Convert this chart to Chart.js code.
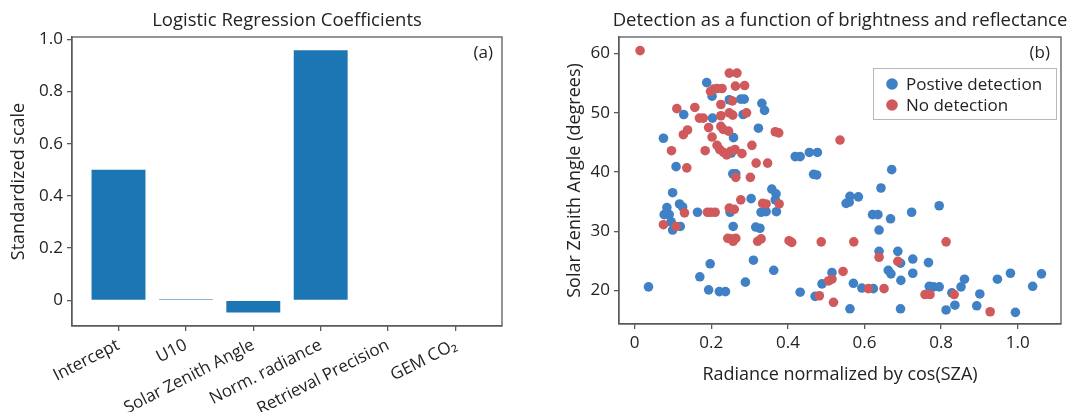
<!DOCTYPE html>
<html>
<head>
<meta charset="utf-8">
<script src="https://cdn.jsdelivr.net/npm/chart.js@4.4.0/dist/chart.umd.min.js"></script>
<style>
    html, body { margin: 0; padding: 0; background: #fff; }
    #wrap { position: relative; width: 1074px; height: 412px; }
    canvas { position: absolute; top: 0; }
    #coefChart { left: 0; }
    #scatterChart { left: 540px; }
</style>
</head>
<body>
<div id="wrap">
    <canvas id="coefChart" width="540" height="412"></canvas>
    <canvas id="scatterChart" width="534" height="412"></canvas>
</div>
<script>
// Panel (a): regression coefficients
const coefLabels = ['Intercept', 'U10', 'Solar Zenith Angle', 'Norm. radiance', 'Retrieval Precision', 'GEM CO\u2082'];
const coefValues = [0.5, 0.004, -0.047, 0.958, 0, 0];
const coefTicks = [0, 0.2, 0.4, 0.6, 0.8, 1.0];

// Panel (b): detection scatter
const posX = [0.036, 0.075, 0.108, 0.099, 0.084, 0.117, 0.125, 0.077, 0.090, 0.095, 0.119, 0.099, 0.164, 0.249, 0.304, 0.330,
    0.343, 0.257, 0.316, 0.327, 0.197, 0.310, 0.170, 0.289, 0.193, 0.221, 0.237, 0.358, 0.369, 0.367, 0.370, 0.188,
    0.202, 0.247, 0.277, 0.286, 0.332, 0.339, 0.128, 0.203, 0.283, 0.323, 0.258, 0.252, 0.256, 0.264, 0.419, 0.432,
    0.456, 0.477, 0.467, 0.475, 0.671, 0.643, 0.562, 0.584, 0.552, 0.560, 0.621, 0.635, 0.668, 0.723, 0.638, 0.638,
    0.687, 0.694, 0.726, 0.363, 0.515, 0.489, 0.571, 0.593, 0.623, 0.662, 0.669, 0.695, 0.726, 0.432, 0.471, 0.562,
    0.694, 0.795, 0.767, 0.769, 0.780, 0.795, 0.828, 0.861, 0.852, 0.901, 0.947, 0.981, 1.062, 1.039, 0.813, 0.836,
    0.893, 0.994];
const posY = [20.6, 45.7, 40.9, 36.5, 34.0, 34.6, 34.1, 32.8, 32.8, 31.6, 30.8, 30.2, 33.2, 33.2, 35.5, 33.2,
    33.3, 30.8, 30.7, 30.5, 24.5, 25.1, 22.3, 21.4, 20.1, 19.8, 19.8, 37.1, 36.3, 35.3, 33.3, 55.1,
    52.8, 52.2, 52.3, 52.3, 51.6, 50.4, 49.7, 49.1, 49.7, 47.4, 45.8, 43.2, 39.7, 39.7, 42.6, 42.6,
    43.3, 43.3, 39.6, 39.5, 40.4, 37.3, 35.9, 35.8, 34.7, 34.9, 32.8, 32.8, 32.1, 33.2, 30.2, 26.6,
    26.6, 24.6, 25.3, 23.4, 23.0, 21.1, 21.2, 20.4, 20.3, 23.4, 22.8, 21.7, 22.9, 19.7, 19.0, 16.9,
    16.9, 34.3, 24.7, 20.7, 20.6, 20.6, 19.6, 21.9, 20.6, 19.4, 21.9, 22.9, 22.8, 20.7, 16.7, 17.5,
    17.4, 16.3];
const negX = [0.014, 0.247, 0.267, 0.263, 0.287, 0.198, 0.206, 0.215, 0.228, 0.255, 0.225, 0.110, 0.157, 0.169, 0.179, 0.225,
    0.247, 0.256, 0.292, 0.193, 0.225, 0.231, 0.245, 0.138, 0.127, 0.202, 0.306, 0.096, 0.184, 0.215, 0.222, 0.232,
    0.240, 0.250, 0.262, 0.280, 0.317, 0.347, 0.136, 0.264, 0.302, 0.130, 0.075, 0.108, 0.190, 0.199, 0.210, 0.247,
    0.260, 0.277, 0.334, 0.343, 0.377, 0.243, 0.251, 0.264, 0.257, 0.321, 0.330, 0.367, 0.376, 0.536, 0.403, 0.410,
    0.487, 0.572, 0.638, 0.687, 0.544, 0.506, 0.515, 0.482, 0.519, 0.610, 0.651, 0.813, 0.758, 0.771, 0.834, 0.928];
const negY = [60.5, 56.7, 56.7, 54.5, 54.6, 53.6, 54.0, 54.1, 54.1, 52.0, 51.4, 50.7, 50.9, 49.1, 49.1, 49.5,
    50.0, 49.6, 50.0, 47.5, 47.7, 47.2, 46.9, 47.1, 46.3, 45.9, 44.5, 43.6, 43.6, 44.5, 43.8, 43.3,
    42.9, 43.5, 43.8, 43.1, 41.5, 41.5, 40.7, 39.1, 39.1, 33.1, 31.1, 30.8, 33.2, 33.2, 33.2, 33.9,
    33.7, 35.3, 34.7, 34.6, 34.6, 28.8, 28.7, 28.8, 28.3, 28.3, 28.7, 46.8, 46.6, 45.4, 28.4, 28.1,
    28.2, 28.2, 25.6, 24.9, 23.2, 21.6, 21.9, 19.1, 18.0, 20.3, 20.3, 28.2, 19.3, 19.3, 19.3, 16.4];
const scatterXTicks = [0, 0.2, 0.4, 0.6, 0.8, 1.0];
const scatterYTicks = [20, 30, 40, 50, 60];

const FONT = '"Open Sans", "DejaVu Sans", sans-serif';
const TEXT = '#232323';
const AXIS = '#5a5a5a';
const BLUE = '#4081c6';
const RED = '#d05a5b';
const TICK_SIZE = 17;
const LABEL_SIZE = 18;
const TITLE_SIZE = 18.5;

Chart.defaults.font.family = FONT;
Chart.defaults.font.size = TICK_SIZE;
Chart.defaults.color = TEXT;

function fmt(v) {
    return v === 0 ? '0' : v.toFixed(1);
}

// box round the plot area, chart title, panel letter and legend
const framePlugin = {
    id: 'frame',
    afterDraw(chart, args, opts) {
        const { ctx, chartArea: a } = chart;
        ctx.save();
        ctx.strokeStyle = AXIS;
        ctx.lineWidth = 1.3;
        ctx.strokeRect(a.left, a.top, a.right - a.left, a.bottom - a.top);
        ctx.fillStyle = TEXT;
        ctx.font = TITLE_SIZE + 'px ' + FONT;
        ctx.textBaseline = 'middle';
        ctx.textAlign = 'center';
        ctx.fillText(opts.title, (a.left + a.right) / 2, 21);
        ctx.font = '17px ' + FONT;
        ctx.textAlign = 'right';
        ctx.fillText(opts.letter, a.right - opts.letterDx, a.top + 16);
        if (opts.legend) {
            const bx = a.right - 188, by = a.top + 31, bw = 183, bh = 51;
            ctx.fillStyle = 'rgba(255,255,255,0.8)';
            ctx.fillRect(bx, by, bw, bh);
            ctx.strokeStyle = '#b8b8b8';
            ctx.lineWidth = 1;
            ctx.strokeRect(bx + 0.5, by + 0.5, bw, bh);
            ctx.textAlign = 'left';
            opts.legend.forEach((item, i) => {
                const cy = by + 16 + i * 21;
                ctx.fillStyle = item.color;
                ctx.beginPath();
                ctx.arc(bx + 19, cy, 5.8, 0, Math.PI * 2);
                ctx.fill();
                ctx.fillStyle = TEXT;
                ctx.fillText(item.label, bx + 33, cy + 1);
            });
        }
        ctx.restore();
    }
};

function axisCommon() {
    return {
        grid: { display: true, offset: false, drawOnChartArea: false, drawTicks: true, tickLength: 5, color: AXIS, lineWidth: 1.3 },
        border: { display: true, color: AXIS, width: 1.3 },
        ticks: { padding: 4, color: TEXT, font: { size: TICK_SIZE } }
    };
}

// Panel (a)
const coefX = axisCommon();
const coefY = axisCommon();
new Chart(document.getElementById('coefChart'), {
    type: 'bar',
    data: {
        datasets: [{
            data: coefValues.map((v, i) => ({ x: i, y: v })),
            backgroundColor: '#1c76b4',
            borderWidth: 0,
            barPercentage: 0.8,
            categoryPercentage: 1.0
        }]
    },
    options: {
        responsive: false,
        animation: false,
        events: [],
        layout: { padding: { left: 0, right: 38, top: 37, bottom: 0 } },
        plugins: {
            legend: { display: false },
            tooltip: { enabled: false },
            frame: { title: 'Logistic Regression Coefficients', letter: '(a)', letterDx: 9 }
        },
        scales: {
            x: {
                ...coefX,
                type: 'linear',
                offset: false,
                min: -0.69,
                max: 5.69,
                afterBuildTicks: s => { s.ticks = coefLabels.map((_, i) => ({ value: i })); },
                afterFit: s => { s.height = 86; },
                ticks: {
                    ...coefX.ticks,
                    autoSkip: false,
                    minRotation: 27,
                    maxRotation: 27,
                    callback: v => coefLabels[v]
                }
            },
            y: {
                ...coefY,
                min: -0.0985,
                max: 1.009,
                afterBuildTicks: s => { s.ticks = coefTicks.map(v => ({ value: v })); },
                afterFit: s => { s.width = 72; },
                ticks: { ...coefY.ticks, callback: v => fmt(v) },
                title: { display: true, text: 'Standardized scale', color: TEXT, font: { size: LABEL_SIZE }, padding: { top: 8, bottom: 0 } }
            }
        }
    },
    plugins: [framePlugin]
});

// Panel (b)
const scX = axisCommon();
const scY = axisCommon();
new Chart(document.getElementById('scatterChart'), {
    type: 'scatter',
    data: {
        datasets: [
            {
                label: 'Postive detection',
                data: posX.map((x, i) => ({ x: x, y: posY[i] })),
                backgroundColor: BLUE,
                borderWidth: 0,
                pointRadius: 4.8,
                order: 1
            },
            {
                label: 'No detection',
                data: negX.map((x, i) => ({ x: x, y: negY[i] })),
                backgroundColor: RED,
                borderWidth: 0,
                pointRadius: 4.8,
                order: 0
            }
        ]
    },
    options: {
        responsive: false,
        animation: false,
        events: [],
        layout: { padding: { left: 0, right: 13, top: 37, bottom: 0 } },
        plugins: {
            legend: { display: false },
            tooltip: { enabled: false },
            frame: {
                title: 'Detection as a function of brightness and reflectance',
                letter: '(b)',
                letterDx: 11,
                legend: [{ label: 'Postive detection', color: BLUE }, { label: 'No detection', color: RED }]
            }
        },
        scales: {
            x: {
                ...scX,
                type: 'linear',
                min: -0.041,
                max: 1.113,
                afterBuildTicks: s => { s.ticks = scatterXTicks.map(v => ({ value: v })); },
                afterFit: s => { s.height = 88; },
                ticks: { ...scX.ticks, callback: v => fmt(v) },
                title: { display: true, text: 'Radiance normalized by cos(SZA)', color: TEXT, font: { size: LABEL_SIZE }, padding: { top: 0, bottom: 26 } }
            },
            y: {
                ...scY,
                min: 14.33,
                max: 62.8,
                afterBuildTicks: s => { s.ticks = scatterYTicks.map(v => ({ value: v })); },
                afterFit: s => { s.width = 79; },
                ticks: { ...scY.ticks, callback: v => String(v) },
                title: { display: true, text: 'Solar Zenith Angle (degrees)', color: TEXT, font: { size: LABEL_SIZE }, padding: { top: 24, bottom: 0 } }
            }
        }
    },
    plugins: [framePlugin]
});
</script>
</body>
</html>
